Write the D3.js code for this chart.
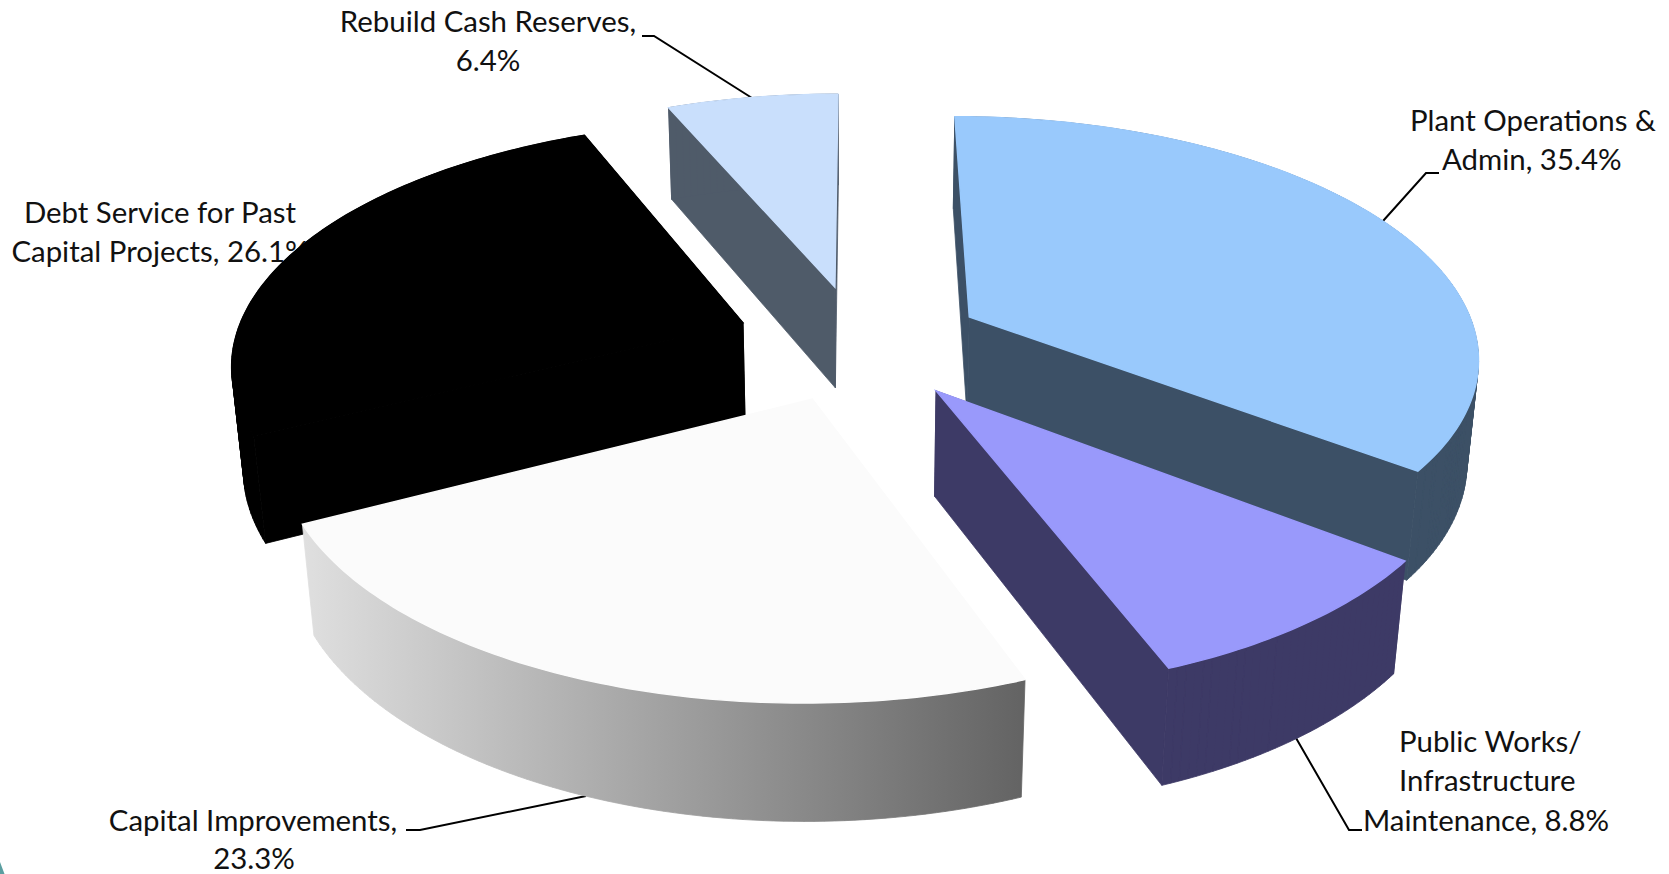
<!DOCTYPE html>
<html><head><meta charset="utf-8">
<script src="https://cdn.jsdelivr.net/npm/d3@7"></script>
<style>html,body{margin:0;padding:0;background:#fff;overflow:hidden}svg{display:block}</style>
</head><body><svg id="c" width="1669" height="874"></svg>
<script>
const categories=["Plant Operations & Admin","Public Works/ Infrastructure Maintenance","Capital Improvements","Debt Service for Past Capital Projects","Rebuild Cash Reserves"];
const values=[35.4,8.8,23.3,26.1,6.4];
const topColors=["#99C9FC","#9999FB","#FBFBFB","#000000","#C9DFFC"];
const sideColors=["#3C5066","#3D3A66","url(#capGrad)","#000000","#4F5B69"];
const labelLines=[["Plant Operations &","Admin, 35.4%"],["Public Works/","Infrastructure","Maintenance, 8.8%"],["Capital Improvements,","23.3%"],["Debt Service for Past","Capital Projects, 26.1%"],["Rebuild Cash Reserves,","6.4%"]];
const labelY=[[131,170],[752,791,831],[831,869],[223,262],[32,71]];
const labelXs=[[1410,1442],[1399,1399,1363],[253,254],[160,160],[488,488]];
const labelAnchors=["start","start","middle","middle","middle"];
const leaderElbows=[[[1426,173],[1439,173]],[[1349,830],[1362,830]],[[420,830],[406,830]],null,[[654,36],[642,36]]];
const leaderTargets=[[1383,221],[1296,738],[586,796],null,[752,98]];
const drawOrder=[4,3,0,2,1];
const cx=859,cy=342.5,R=509,E=125,H=119,sinT=.468,cosT=Math.sqrt(1-sinT*sinT),K=.00034;
const font="Lato, Carlito, Calibri, sans-serif";
const svg=d3.select("#c");
const defs=svg.append("defs");
const g=defs.append("linearGradient").attr("id","capGrad").attr("gradientUnits","userSpaceOnUse").attr("x1",300).attr("x2",1025).attr("y1",0).attr("y2",0);
g.append("stop").attr("offset",0).attr("stop-color","#E0E0E0");
g.append("stop").attr("offset",1).attr("stop-color","#636363");
function project(X,V,Z){const y=V*sinT+Z*cosT,d=V*cosT-Z*sinT,w=1+d*K;return [cx+X/w,cy-y/w];}
const arcs=d3.pie().sort(null).value(d=>d).startAngle(0).endAngle(2*Math.PI)(values);
const line=d3.line();
// corner accent
svg.append("path").attr("d","M0,862 L4.5,874 L0,874 Z").attr("fill","#5A9EA0");
// labels and leaders sit under the pie
labelLines.forEach((ls,i)=>{
  ls.forEach((t,j)=>svg.append("text").attr("x",labelXs[i][j]).attr("y",labelY[i][j]).attr("font-family",font).attr("font-size",29.4).attr("fill","#111").attr("text-anchor",labelAnchors[i]).text(t));
  if(leaderElbows[i]) svg.append("path").attr("d",line([leaderTargets[i],...leaderElbows[i]])).attr("fill","none").attr("stroke","#000").attr("stroke-width",2);
});
drawOrder.forEach(i=>{
  const a=arcs[i],mid=(a.startAngle+a.endAngle)/2;
  const ox=E*Math.sin(mid),ov=E*Math.cos(mid);
  const P=(r,ang,z)=>project(ox+r*Math.sin(ang),ov+r*Math.cos(ang),z);
  const n=Math.max(8,Math.ceil((a.endAngle-a.startAngle)*60));
  const angs=d3.range(n+1).map(k=>a.startAngle+(a.endAngle-a.startAngle)*k/n);
  const topArc=angs.map(t=>P(R,t,0)),botArc=angs.map(t=>P(R,t,-H));
  const sl=svg.append("g").attr("class","slice");
  const side=sideColors[i];
  if(i!=2){
    [a.startAngle,a.endAngle].forEach(t=>sl.append("path").attr("d",line([P(0,0,0),P(R,t,0),P(R,t,-H),P(0,0,-H)])+"Z").attr("fill",side).attr("stroke",side).attr("stroke-width",.8));
  }
  // the outer wall is a run of quads, so the side silhouette stays closed where the two arcs cross
  const wall=d3.range(n).map(k=>line(d3.polygonHull([topArc[k],topArc[k+1],botArc[k+1],botArc[k]]))+"Z").join("");
  sl.append("path").attr("d",wall).attr("fill",side).attr("stroke",side).attr("stroke-width",.8);
  sl.append("path").attr("d",line([P(0,0,0),...topArc])+"Z").attr("fill",topColors[i]).attr("stroke",topColors[i]).attr("stroke-width",1.4);
});
</script></body></html>
